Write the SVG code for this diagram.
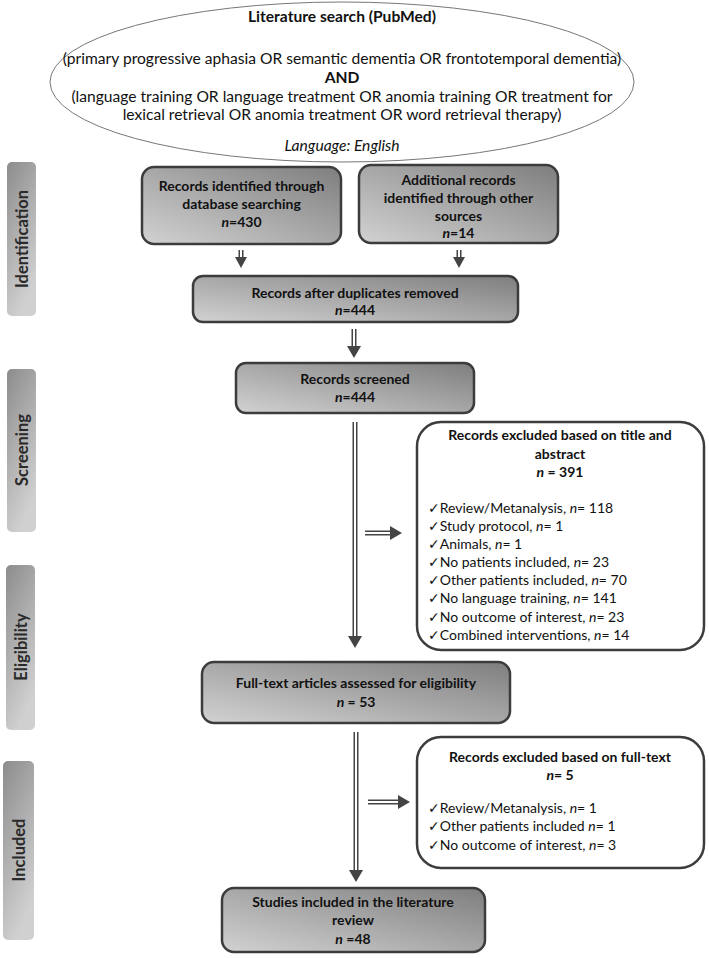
<svg xmlns="http://www.w3.org/2000/svg" width="709" height="958" viewBox="0 0 709 958">
<defs>
<linearGradient id="boxg" x1="1" y1="0" x2="0" y2="1">
<stop offset="0" stop-color="#7e7e7e"/>
<stop offset="1" stop-color="#d2d2d2"/>
</linearGradient>
<linearGradient id="barg" x1="0" y1="0" x2="0.4" y2="1">
<stop offset="0" stop-color="#8c8c8c"/>
<stop offset="1" stop-color="#d0d0d0"/>
</linearGradient>
<style>
text{font-family:Lato,"Liberation Sans",sans-serif;fill:#111;}
.b{font-weight:bold;font-size:14px;text-anchor:middle;}
.e{font-size:15.6px;text-anchor:middle;}
.l{font-size:14px;}
.bar{fill:url(#barg);}
.lab{font-weight:bold;font-size:16.5px;text-anchor:middle;fill:#2a2a2a;}
.box{fill:url(#boxg);stroke:#3c3c3c;stroke-width:2.5;}
.wbox{fill:#fff;stroke:#3c3c3c;stroke-width:2.5;}
.sh{stroke:#444;stroke-width:5;fill:none;}
.shi{stroke:#fff;stroke-width:2;fill:none;}
.hd{fill:#444;}
.ck{font-family:"DejaVu Sans",sans-serif;font-size:14px;}
</style>
</defs>

<g id="search">
<ellipse cx="342" cy="82" rx="292" ry="80" fill="#fff" stroke="#777" stroke-width="1"/>
<text class="e" x="342" y="22" font-weight="bold" font-size="14">Literature search (PubMed)</text>
<text class="e" x="342" y="64">(primary progressive aphasia OR semantic dementia OR frontotemporal dementia)</text>
<text class="e" x="342" y="83" font-weight="bold">AND</text>
<text class="e" x="342" y="102">(language training OR language treatment OR anomia training OR treatment for</text>
<text class="e" x="342" y="120">lexical retrieval OR anomia treatment OR word retrieval therapy)</text>
<text class="e" x="342" y="151" font-style="italic">Language: English</text>
</g>

<g id="stage-identification">
<rect class="bar" x="7" y="162" width="29" height="154" rx="5"/>
<text class="lab" transform="translate(27.5,239) rotate(-90)">Identification</text>
</g>
<g id="stage-screening">
<rect class="bar" x="7" y="369" width="29" height="163" rx="5"/>
<text class="lab" transform="translate(27.5,450) rotate(-90)">Screening</text>
</g>
<g id="stage-eligibility">
<rect class="bar" x="6" y="565" width="29" height="165" rx="5"/>
<text class="lab" transform="translate(26.5,647) rotate(-90)">Eligibility</text>
</g>
<g id="stage-included">
<rect class="bar" x="3" y="761" width="31" height="179" rx="5"/>
<text class="lab" transform="translate(24.5,850) rotate(-90)">Included</text>
</g>

<g id="db-records">
<rect class="box" x="142" y="167" width="199" height="77" rx="12"/>
<text class="b" x="241.5" y="191">Records identified through</text>
<text class="b" x="241.5" y="209">database searching</text>
<text class="b" x="241.5" y="227"><tspan font-style="italic">n</tspan>=430</text>
</g>

<g id="other-records">
<rect class="box" x="359" y="165" width="199" height="78" rx="12"/>
<text class="b" x="458.5" y="185">Additional records</text>
<text class="b" x="458.5" y="203">identified through other</text>
<text class="b" x="458.5" y="221">sources</text>
<text class="b" x="458.5" y="238"><tspan font-style="italic">n</tspan>=14</text>
</g>

<g id="dedup">
<rect class="box" x="193" y="276" width="325" height="46" rx="10"/>
<text class="b" x="355" y="298">Records after duplicates removed</text>
<text class="b" x="355" y="315"><tspan font-style="italic">n</tspan>=444</text>
</g>

<g id="screened">
<rect class="box" x="236" y="363" width="238" height="50" rx="10"/>
<text class="b" x="355" y="384">Records screened</text>
<text class="b" x="355" y="402"><tspan font-style="italic">n</tspan>=444</text>
</g>

<g id="excluded-title">
<rect class="wbox" x="417" y="422" width="287" height="228" rx="24"/>
<text class="b" x="560" y="440">Records excluded based on title and</text>
<text class="b" x="560" y="459">abstract</text>
<text class="b" x="560" y="477"><tspan font-style="italic">n</tspan> = 391</text>
<text class="l" x="428" y="513"><tspan class="ck">✓</tspan>Review/Metanalysis, <tspan font-style="italic">n</tspan>= 118</text>
<text class="l" x="428" y="531"><tspan class="ck">✓</tspan>Study protocol, <tspan font-style="italic">n</tspan>= 1</text>
<text class="l" x="428" y="549"><tspan class="ck">✓</tspan>Animals, <tspan font-style="italic">n</tspan>= 1</text>
<text class="l" x="428" y="567"><tspan class="ck">✓</tspan>No patients included, <tspan font-style="italic">n</tspan>= 23</text>
<text class="l" x="428" y="585"><tspan class="ck">✓</tspan>Other patients included, <tspan font-style="italic">n</tspan>= 70</text>
<text class="l" x="428" y="603"><tspan class="ck">✓</tspan>No language training, <tspan font-style="italic">n</tspan>= 141</text>
<text class="l" x="428" y="622"><tspan class="ck">✓</tspan>No outcome of interest, <tspan font-style="italic">n</tspan>= 23</text>
<text class="l" x="428" y="640"><tspan class="ck">✓</tspan>Combined interventions, <tspan font-style="italic">n</tspan>= 14</text>
</g>

<g id="fulltext">
<rect class="box" x="202" y="662" width="308" height="61" rx="12"/>
<text class="b" x="356" y="688">Full-text articles assessed for eligibility</text>
<text class="b" x="356" y="707"><tspan font-style="italic">n</tspan> = 53</text>
</g>

<g id="excluded-fulltext">
<rect class="wbox" x="417" y="737" width="287" height="131" rx="24"/>
<text class="b" x="560" y="762">Records excluded based on full-text</text>
<text class="b" x="560" y="780"><tspan font-style="italic">n</tspan>= 5</text>
<text class="l" x="428" y="813"><tspan class="ck">✓</tspan>Review/Metanalysis, <tspan font-style="italic">n</tspan>= 1</text>
<text class="l" x="428" y="831"><tspan class="ck">✓</tspan>Other patients included <tspan font-style="italic">n</tspan>= 1</text>
<text class="l" x="428" y="850"><tspan class="ck">✓</tspan>No outcome of interest, <tspan font-style="italic">n</tspan>= 3</text>
</g>

<g id="included">
<rect class="box" x="222" y="888" width="263" height="64" rx="12"/>
<text class="b" x="353" y="907">Studies included in the literature</text>
<text class="b" x="353" y="925">review</text>
<text class="b" x="353" y="944"><tspan font-style="italic">n</tspan> =48</text>
</g>

<g id="connectors">
<path class="sh" d="M241 250V259M459 250V259M354 329V347M355 422V637M356 732V871M365 533H391M368 802H399"/>
<path class="shi" d="M241 249V259M459 249V259M354 328V347M355 421V637M356 731V871M364 533H391M367 802H399"/>
<polygon class="hd" points="235,257 247,257 241,268"/>
<polygon class="hd" points="453,257 465,257 459,268"/>
<polygon class="hd" points="347,346 361,346 354,358"/>
<polygon class="hd" points="348,636 362,636 355,648"/>
<polygon class="hd" points="349,870 363,870 356,882"/>
<polygon class="hd" points="390,526 390,540 402,533"/>
<polygon class="hd" points="398,795 398,809 410,802"/>
</g>
</svg>
